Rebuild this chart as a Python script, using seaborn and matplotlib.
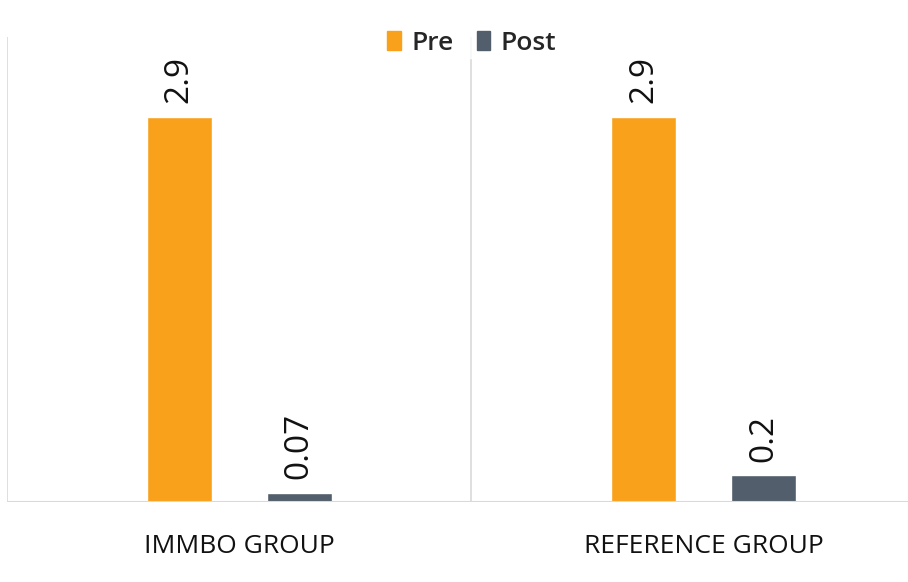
import matplotlib
matplotlib.use("Agg")
import matplotlib.pyplot as plt
import seaborn as sns
import pandas as pd

# data
groups = ["IMMBO GROUP", "REFERENCE GROUP"]
phases = ["Pre", "Post"]
pre_vals = [2.9, 2.9]
post_vals = [0.07, 0.2]
value_labels = {"Pre": ["2.9", "2.9"], "Post": ["0.07", "0.2"]}

PRE_COLOR = "#F9A11B"
POST_COLOR = "#525E6B"
GRID_COLOR = "#D9D9D9"

df = pd.DataFrame({
    "group": groups * 2,
    "phase": ["Pre"] * len(groups) + ["Post"] * len(groups),
    "value": pre_vals + post_vals,
})

sns.set_theme(style="white")
plt.rcParams["font.family"] = ["Open Sans", "DejaVu Sans"]

fig = plt.figure(figsize=(9.08, 5.82), dpi=100)
ax = fig.add_axes([7 / 908, 80 / 582, 929 / 908, 465 / 582])

sns.barplot(data=df, x="group", y="value", hue="phase", hue_order=phases,
            order=groups, palette=[PRE_COLOR, POST_COLOR], saturation=1,
            width=0.517, gap=0.457, ax=ax, errorbar=None, legend=False)

ax.set_xlim(-0.5, 1.5)
ax.set_ylim(0, 3.5)
ax.set_xlabel("")
ax.set_ylabel("")
ax.set_yticks([])

# category separators, left edge and baseline
for xv in (-0.5, 0.5):
    ax.axvline(xv, color=GRID_COLOR, lw=1.2, zorder=0)
ax.axhline(0, color=GRID_COLOR, lw=1.5, zorder=3)
for s in ax.spines.values():
    s.set_visible(False)

ax.tick_params(axis="x", length=0, pad=23, labelsize=19, labelcolor="#111111")

for cont, ph in zip(ax.containers, phases):
    ax.bar_label(cont, labels=value_labels[ph], rotation=90, padding=10,
                 fontsize=24, fontweight="medium", color="#111111")

handles = [plt.Rectangle((0, 0), 1, 1, color=c) for c in (PRE_COLOR, POST_COLOR)]
leg = fig.legend(handles, phases, loc="center", bbox_to_anchor=(472 / 908, 1 - 43 / 582),
                 ncol=2, frameon=True, fontsize=19, handlelength=0.5, handleheight=0.75,
                 handletextpad=0.4, columnspacing=0.9, borderpad=0.1)
leg.get_frame().set_edgecolor("white")
leg.get_frame().set_facecolor("white")
for t in leg.get_texts():
    t.set_fontweight("semibold")

fig.savefig("out.png", dpi=100, facecolor="white")
